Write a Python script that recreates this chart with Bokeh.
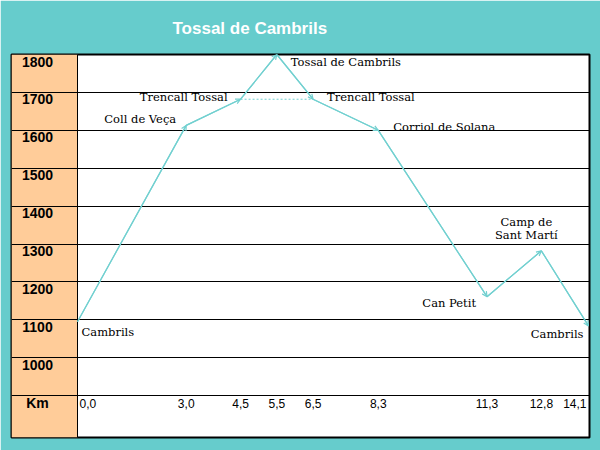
from bokeh.plotting import figure
from bokeh.models import Range1d, BoxAnnotation, Arrow, OpenHead, ColumnDataSource
from bokeh.core.properties import value
from bokeh.embed import file_html
from bokeh.resources import INLINE

# ---- data ----
chart_title = "Tossal de Cambrils"
km = [0.0, 3.0, 4.5, 5.5, 6.5, 8.3, 11.3, 12.8, 14.1]
km_labels = ["0,0", "3,0", "4,5", "5,5", "6,5", "8,3", "11,3", "12,8", "14,1"]
altitude = [1095, 1613, 1682, 1800, 1682, 1600, 1161, 1282, 1084]
places = ["Cambrils", "Coll de Veça", "Trencall Tossal", "Tossal de Cambrils",
          "Trencall Tossal", "Corriol de Solana", "Can Petit",
          "Camp de\nSant Martí", "Cambrils"]
alt_ticks = [1800, 1700, 1600, 1500, 1400, 1300, 1200, 1100, 1000]
alt_labels = ["1800", "1700", "1600", "1500", "1400", "1300", "1200", "1100", "1000"]
unit_label = "Km"
unit_row = 900
trencall_pair = [2, 4]

# ---- styles ----
BG = "#66cccc"
LINE = "#72d0d0"
ORANGE = "#ffcc99"
place_align = ["left", "right", "right", "left", "left", "left", "right", "center", "right"]
place_dx = [4, -10, -13, 14, 14, 15, -11, -15, -5]
place_dy = [10, -6, -2, 7, -2, -3, 6, -22, 8]

p = figure(width=600, height=450,
           x_range=Range1d(-1.821, 14.128), y_range=Range1d(789.5, 1800),
           output_backend="svg", toolbar_location=None,
           x_axis_type=None, y_axis_type=None,
           min_border_left=11, min_border_right=11, min_border_top=53, min_border_bottom=13,
           background_fill_color="white", border_fill_color=BG,
           outline_line_color="black", outline_line_width=2,
           title=chart_title)
p.title.text_color = "white"
p.title.text_font = "Liberation Sans"
p.title.text_font_style = "bold"
p.title.text_font_size = "17px"
p.title.align = "left"
p.title.offset = 161
p.title.standoff = 33

# orange label column
p.add_layout(BoxAnnotation(right=0, fill_color=ORANGE, fill_alpha=1, line_alpha=0, level="underlay"))

# row lines and column line
p.hspan(y=alt_ticks[1:] + [unit_row], line_color="black", line_width=1)
p.vspan(x=[0], line_color="black", line_width=1)

# row labels
lab_x = -1.104
p.text(x=[lab_x] * len(alt_ticks), y=alt_ticks, text=alt_labels,
       text_font=value("Liberation Sans"), text_font_style="bold", text_font_size="14px",
       text_align="center", text_baseline="alphabetic", y_offset=7, text_color="black")
p.text(x=[lab_x], y=[unit_row], text=[unit_label],
       text_font=value("Liberation Sans"), text_font_style="bold", text_font_size="14px",
       text_align="center", text_baseline="alphabetic", y_offset=7, text_color="black")

# km labels
kw = dict(text_font=value("Liberation Sans"), text_font_size="12px",
          text_baseline="alphabetic", y_offset=8, text_color="black")
p.text(x=km[:1], y=[unit_row], text=km_labels[:1], text_align="left", x_offset=2, **kw)
p.text(x=km[1:-1], y=[unit_row] * (len(km) - 2), text=km_labels[1:-1], text_align="center", **kw)
p.text(x=km[-1:], y=[unit_row], text=km_labels[-1:], text_align="right", x_offset=-2, **kw)

# dotted link between the two Trencall Tossal points
p.line(x=[km[i] for i in trencall_pair], y=[altitude[i] for i in trencall_pair],
       line_color=LINE, line_width=1, line_dash="2 2")

# profile
p.line(x=km, y=altitude, line_color=LINE, line_width=1.2)
seg = ColumnDataSource(dict(x0=km[:-1], y0=altitude[:-1], x1=km[1:], y1=altitude[1:]))
p.add_layout(Arrow(end=OpenHead(size=5, line_color=LINE, line_width=1.2),
                   x_start="x0", y_start="y0", x_end="x1", y_end="y1", source=seg,
                   line_color=LINE, line_width=1.2))

# place labels
for i, name in enumerate(places):
    p.text(x=[km[i]], y=[altitude[i]], text=[name],
           text_font=value("DejaVu Serif"), text_font_size="11.5px",
           text_align=place_align[i], text_baseline="alphabetic",
           x_offset=place_dx[i], y_offset=place_dy[i], text_color="black",
           text_line_height=0.95)

with open("out.html", "w", encoding="utf-8") as f:
    f.write(file_html(p, INLINE))
